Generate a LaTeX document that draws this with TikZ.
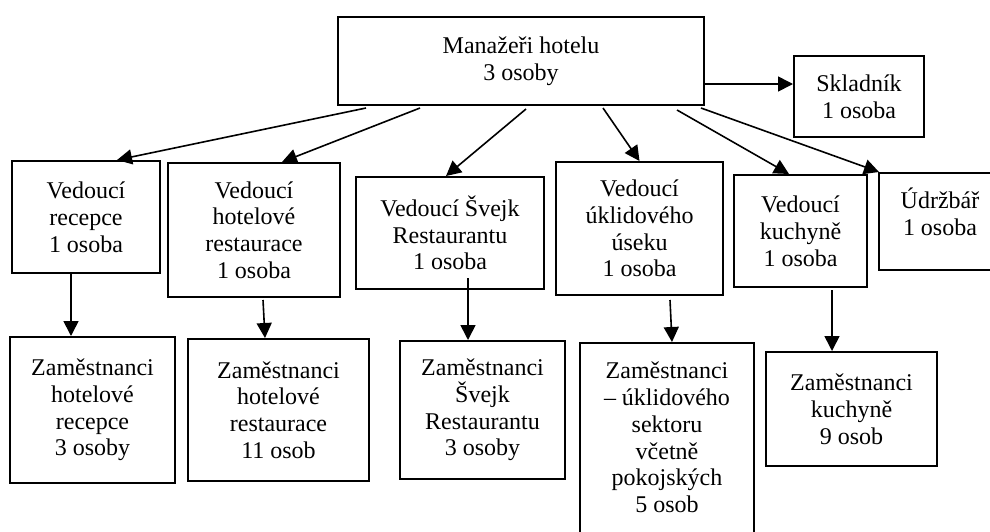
\documentclass[tikz,border=0pt]{standalone}
\usepackage{fontspec}
\setmainfont{Liberation Serif}
\usetikzlibrary{arrows.meta,calc}

\begin{document}
\begin{tikzpicture}[x=0.5pt,y=-0.5pt,
  box/.style={draw,line width=1pt,align=center,inner sep=0pt,
    font=\fontsize{12}{13.4}\selectfont},
  txt/.style={align=center,inner sep=0pt,font=\fontsize{12}{13.4}\selectfont},
  arr/.style={line width=0.8pt,-{Triangle[length=7.5pt,width=7.5pt]}}]
  \useasboundingbox (0,0) rectangle (990,531);

  % top
  \node[box,minimum width=183pt,minimum height=44pt] (mgr) at (521,61) {Manažeři hotelu\\3 osoby};
  \node[box,minimum width=65pt,minimum height=40.5pt] (skl) at (859,96.5) {Skladník\\1 osoba};

  % vedouci
  \node[box,minimum width=74pt,minimum height=56pt] (vrec) at (86,217) {Vedoucí\\recepce\\1 osoba};
  \node[box,minimum width=86pt,minimum height=67pt] (vres) at (254,230) {Vedoucí\\hotelové\\restaurace\\1 osoba};
  \node[box,minimum width=94pt,minimum height=56pt] (vsv) at (450,233) {Vedoucí Švejk\\Restaurantu\\1 osoba};
  \node[box,minimum width=83.5pt,minimum height=66.5pt] (vukl) at (639.5,228.5) {Vedoucí\\úklidového\\úseku\\1 osoba};
  \node[box,minimum width=66.5pt,minimum height=56pt] (vkuch) at (800.5,231) {Vedoucí\\kuchyně\\1 osoba};
  \node[box,minimum width=61pt,minimum height=48.5pt,
    label={[txt,yshift=4.75pt]center:Údržbář\\1 osoba}] (udr) at (940,221.5) {};

  % zamestnanci
  \node[box,minimum width=82.5pt,minimum height=73pt] (zrec) at (92.5,410) {Zaměstnanci\\hotelové\\recepce\\3 osoby};
  \node[box,minimum width=90.5pt,minimum height=71pt] (zres) at (278.5,410) {Zaměstnanci\\hotelové\\restaurace\\11 osob};
  \node[box,minimum width=82.5pt,minimum height=69pt] (zsv) at (482.5,410) {Zaměstnanci\\Švejk\\Restaurantu\\3 osoby};
  \node[box,minimum width=87pt,minimum height=98pt,
    label={[txt,yshift=1.75pt]center:Zaměstnanci\\– úklidového\\sektoru\\včetně\\pokojských\\5 osob}] (zukl) at (667,441) {};
  \node[box,minimum width=85.5pt,minimum height=57pt] (zkuch) at (851.5,409) {Zaměstnanci\\kuchyně\\9 osob};

  \draw[arr] ($(mgr.south east)+(0,-22)$) -- ($(skl.south west)+(0,-54)$);
  \draw[arr] ($(mgr.south west)+(29,2)$) -- ($(vrec.north west)+(106,0)$);
  \draw[arr] ($(mgr.south west)+(83,2)$) -- ($(vres.north west)+(115,0)$);
  \draw[arr] ($(mgr.south west)+(189,3)$) -- ($(vsv.north west)+(91,0)$);
  \draw[arr] ($(mgr.south west)+(266,2)$) -- (vukl.north);
  \draw[arr] ($(mgr.south west)+(340,4)$) -- ($(vkuch.north west)+(56,0)$);
  \draw[arr] ($(mgr.south east)+(-4,2)$) -- ($(udr.north west)+(1,0)$);

  \draw[arr] ($(vrec.south west)+(60,-2)$) -- ($(zrec.north west)+(62,0)$);
  \draw[arr] ($(vres.south west)+(96,2)$) -- ($(zres.north west)+(78,0)$);
  \draw[arr] ($(vsv.south west)+(113,-12)$) -- ($(zsv.north west)+(69,0)$);
  \draw[arr] ($(vukl.south west)+(115,4)$) -- ($(zukl.north west)+(93,0)$);
  \draw[arr] ($(vkuch.south west)+(99,2)$) -- ($(zkuch.north west)+(67,0)$);
\end{tikzpicture}
\end{document}
